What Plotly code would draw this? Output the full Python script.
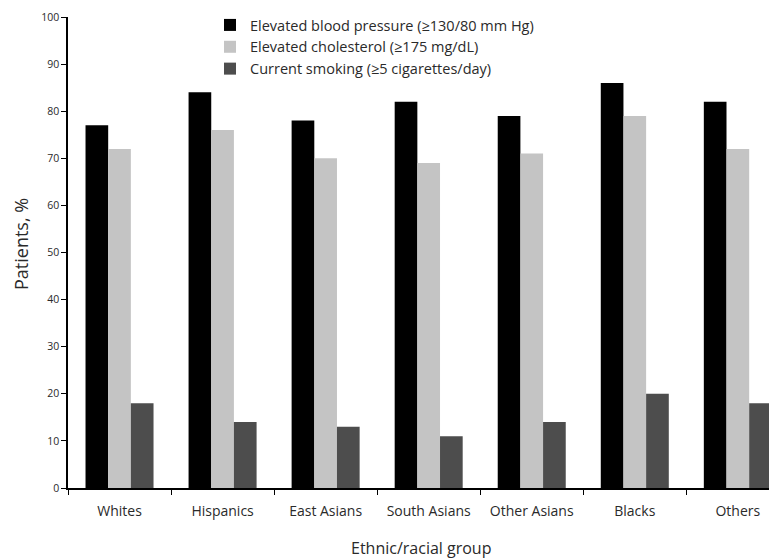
import plotly.graph_objects as go

groups = ["Whites", "Hispanics", "East Asians", "South Asians", "Other Asians", "Blacks", "Others"]
bp_vals = [77, 84, 78, 82, 79, 86, 82]
chol_vals = [72, 76, 70, 69, 71, 79, 72]
smoke_vals = [18, 14, 13, 11, 14, 20, 18]
series_names = [
    "Elevated blood pressure (≥130/80 mm Hg)",
    "Elevated cholesterol (≥175 mg/dL)",
    "Current smoking (≥5 cigarettes/day)",
]
y_ticks = [0, 10, 20, 30, 40, 50, 60, 70, 80, 90, 100]

colors = ["#000000", "#c4c4c4", "#4d4d4d"]
font_family = "Open Sans, Liberation Sans, sans-serif"
txt = "#2a2a2a"

# page body has an 8px default margin: figure is sized/placed to compensate
W, H = 769, 550
L, T, B = 60, 9, 70
PW, PH = W - L, H - T - B

fig = go.Figure()
for i, (name, vals, col) in enumerate(zip(series_names, [bp_vals, chol_vals, smoke_vals], colors)):
    fig.add_trace(go.Bar(x=groups, y=vals, name=name, legendgroup=f"g{i}",
                         marker=dict(color=col, line=dict(width=0))))

fig.update_layout(
    width=W, height=H,
    margin=dict(l=L, r=0, t=T, b=B, autoexpand=False),
    paper_bgcolor="white", plot_bgcolor="white",
    barmode="group", bargap=0.34, bargroupgap=0,
    font=dict(family=font_family, size=12, color=txt),
    showlegend=True,
    legend=dict(x=(210 - 68) / PW, y=1 + 8 / PH, xanchor="left", yanchor="top", traceorder="grouped",
                bgcolor="rgba(255,255,255,0)", font=dict(size=14.5, color=txt),
                itemwidth=30, tracegroupgap=0),
    xaxis=dict(range=[-0.5, 6.38], showline=True, linecolor="#000", linewidth=1.5,
               ticks="outside", tickson="boundaries", ticklen=5, tickcolor="#000", automargin=False,
               ticklabelstandoff=9,
               tickfont=dict(size=14, color=txt), showgrid=False, zeroline=False),
    yaxis=dict(range=[0, 100], tickvals=y_ticks, showline=True, linecolor="#000", linewidth=1.5,
               ticks="outside", ticklen=5, tickcolor="#000", showgrid=False, zeroline=False,
               automargin=False, tickfont=dict(size=10.5, color=txt)),
    annotations=[
        dict(text="Ethnic/racial group", x=(421 - 68) / PW, xref="paper", y=-(548 - 488) / PH,
             yref="paper", xanchor="center", yanchor="middle", showarrow=False,
             font=dict(size=16, color=txt)),
        dict(text="Patients, %", x=-(68 - 21) / PW, xref="paper", y=(488 - 244) / PH, yref="paper",
             xanchor="center", yanchor="middle", textangle=-90, showarrow=False,
             font=dict(size=18, color=txt)),
    ],
)

fig.write_html("out.html")
